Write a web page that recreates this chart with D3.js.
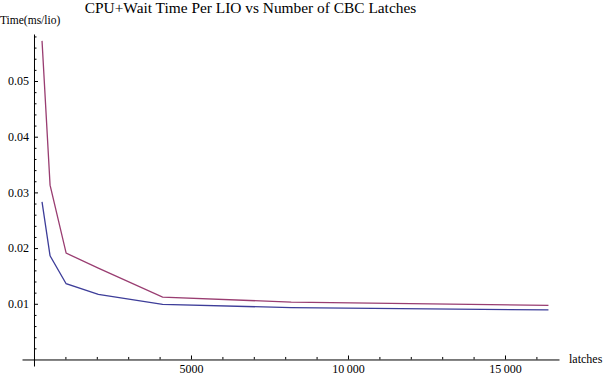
<!DOCTYPE html>
<html>
<head>
<meta charset="utf-8">
<script src="https://d3js.org/d3.v7.min.js"></script>
<style>
  body { margin: 0; background: #fff; }
  svg text { font-family: "Liberation Serif", "Times New Roman", serif !important; }
</style>
</head>
<body>
<svg width="605" height="377"></svg>
<script>
// Number of CBC latches (x) and time per LIO in ms (y)
const latches = [256, 512, 1024, 2048, 4096, 8192, 16384];
const cpuTime = [0.0283, 0.0186, 0.0136, 0.0117, 0.0099, 0.0093, 0.0089];
const cpuWaitTime = [0.0572, 0.0313, 0.0191, 0.0164, 0.0112, 0.0103, 0.0097];

const xTicks = [5000, 10000, 15000];
const xTickLabels = ["5000", "10\u2009000", "15\u2009000"];
const xMinor = [1000, 2000, 3000, 4000, 6000, 7000, 8000, 9000, 11000, 12000, 13000, 14000, 16000];
const yTicks = [0.01, 0.02, 0.03, 0.04, 0.05];
const yTickLabels = ["0.01", "0.02", "0.03", "0.04", "0.05"];
const yMinor = [0.002, 0.004, 0.006, 0.008, 0.012, 0.014, 0.016, 0.018, 0.022, 0.024, 0.026, 0.028,
                0.032, 0.034, 0.036, 0.038, 0.042, 0.044, 0.046, 0.048, 0.052, 0.054, 0.056, 0.058];

const svg = d3.select("svg");

// scales (plot range has a little padding around the origin, like Mathematica)
const x = d3.scaleLinear().domain([-382, 16720]).range([22, 559]);
const y = d3.scaleLinear().domain([-0.00117, 0.05844]).range([366, 34]);

// title
svg.append("text")
    .attr("x", 250.5)
    .attr("y", 13)
    .attr("text-anchor", "middle")
    .style("font-size", "15.4px")
    .text("CPU+Wait Time Per LIO vs Number of CBC Latches");

// x axis, ticks pointing up into the plot
svg.append("g")
    .attr("transform", `translate(0, ${y(0)})`)
    .call(d3.axisBottom(x).tickValues(xTicks).tickSizeInner(-4).tickSizeOuter(0).tickPadding(5)
        .tickFormat((d, i) => xTickLabels[i]))
    .attr("font-size", 12);
svg.append("g")
    .attr("transform", `translate(0, ${y(0)})`)
    .call(d3.axisBottom(x).tickValues(xMinor).tickSizeInner(-2.5).tickSizeOuter(0).tickFormat(""))
    .call(g => g.select(".domain").remove());

// y axis, ticks pointing right
svg.append("g")
    .attr("transform", `translate(${x(0)}, 0)`)
    .call(d3.axisLeft(y).tickValues(yTicks).tickSizeInner(-4).tickSizeOuter(0).tickPadding(5)
        .tickFormat((d, i) => yTickLabels[i]))
    .attr("font-size", 12);
svg.append("g")
    .attr("transform", `translate(${x(0)}, 0)`)
    .call(d3.axisLeft(y).tickValues(yMinor).tickSizeInner(-2.5).tickSizeOuter(0).tickFormat(""))
    .call(g => g.select(".domain").remove());

svg.selectAll(".tick text").attr("fill", "#000");

// axis labels
svg.append("text")
    .attr("x", 0)
    .attr("y", 24)
    .style("font-size", "11.5px")
    .text("Time(ms/lio)");
svg.append("text")
    .attr("x", 569)
    .attr("y", 363)
    .style("font-size", "12px")
    .text("latches");

// lines
const line = d3.line()
    .x(d => x(d[0]))
    .y(d => y(d[1]));

const series = [
    {values: cpuTime, color: "rgb(61,61,153)"},
    {values: cpuWaitTime, color: "rgb(153,61,113)"}
];

svg.selectAll(".series")
    .data(series)
    .join("path")
    .attr("class", "series")
    .attr("d", s => line(latches.map((l, i) => [l, s.values[i]])))
    .attr("fill", "none")
    .attr("stroke", s => s.color)
    .attr("stroke-width", 1.3);
</script>
</body>
</html>
